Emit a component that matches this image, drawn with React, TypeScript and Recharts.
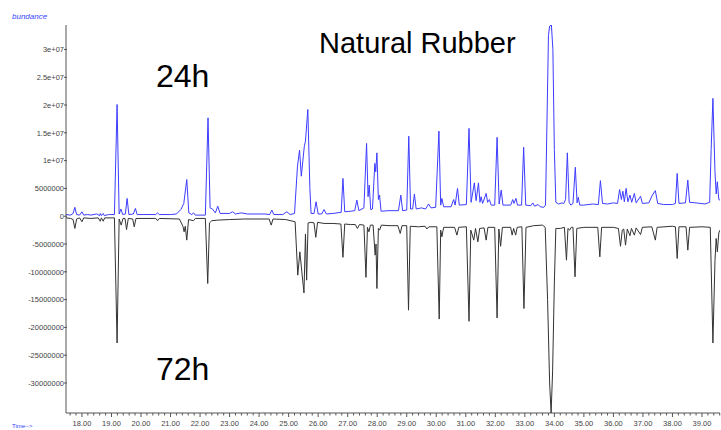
import { LineChart, Line, XAxis, YAxis } from "recharts";

// retention time (min), abundance
const trace24h: [number, number][] = [
  [17.46, 0.3e6], [17.62, 0.2e6], [17.7, 0.5e6], [17.76, 1.6e6], [17.82, 0.3e6],
  [17.92, 0.2e6], [18.0, 0.8e6], [18.06, 0.2e6], [18.2, 0.3e6], [18.3, 0.2e6],
  [18.5, 0.4e6], [18.6, 0.1e6], [18.62, 0.5e6], [18.66, 0.1e6], [18.72, 0.5e6],
  [18.76, 0.1e6], [18.9, 0.3e6], [19.1, 0.3e6], [19.19, 20.1e6], [19.26, 0.4e6],
  [19.32, 1.3e6], [19.38, 0.3e6], [19.47, 0.4e6], [19.53, 3.2e6], [19.59, 0.3e6],
  [19.74, 0.4e6], [19.81, 1.4e6], [19.87, 0.3e6], [20.1, 0.3e6], [20.5, 0.3e6],
  [20.56, 0.6e6], [20.62, 0.3e6], [21.0, 0.3e6], [21.2, 0.4e6], [21.35, 1.2e6],
  [21.45, 2.3e6], [21.55, 6.6e6], [21.62, 0.6e6], [21.72, 0.3e6], [21.78, 0.6e6],
  [21.84, 0.2e6], [22.18, 0.2e6], [22.27, 17.7e6], [22.34, 1.5e6], [22.42, 1.3e6],
  [22.52, 0.6e6], [22.6, 1.8e6], [22.68, 0.5e6], [23.0, 0.5e6], [23.1, 0.8e6],
  [23.2, 0.4e6], [23.4, 0.6e6], [23.6, 0.4e6], [24.2, 0.4e6], [24.36, 0.3e6],
  [24.43, 1.1e6], [24.5, 0.3e6], [24.8, 0.3e6], [24.94, 0.8e6], [25.05, 0.3e6],
  [25.2, 0.5e6], [25.3, 9e6], [25.37, 11.9e6], [25.43, 7.2e6], [25.53, 12.5e6],
  [25.57, 13.5e6], [25.65, 19.2e6], [25.72, 5e6], [25.76, 0.5e6], [25.86, 0.5e6],
  [25.93, 2.6e6], [26.0, 0.4e6], [26.12, 0.4e6], [26.2, 1.2e6], [26.28, 0.4e6],
  [26.5, 0.5e6], [26.78, 0.7e6], [26.84, 6.8e6], [26.9, 0.8e6], [27.1, 0.9e6],
  [27.24, 1e6], [27.31, 2.9e6], [27.38, 1e6], [27.55, 1.5e6], [27.64, 13.1e6],
  [27.69, 3.5e6], [27.73, 5.6e6], [27.78, 1.2e6], [27.84, 1.3e6], [27.92, 9.5e6],
  [27.95, 8e6], [27.99, 11.4e6], [28.04, 3e6], [28.08, 3.8e6], [28.13, 0.9e6],
  [28.4, 1e6], [28.72, 1e6], [28.8, 3.8e6], [28.86, 1e6], [29.0, 1.1e6],
  [29.07, 14.4e6], [29.13, 1.3e6], [29.2, 1.3e6], [29.26, 4e6], [29.32, 1.3e6],
  [29.5, 1.5e6], [29.64, 1.3e6], [29.74, 2.2e6], [29.82, 1.5e6], [29.98, 1.6e6],
  [30.09, 15.3e6], [30.15, 2e6], [30.19, 3.2e6], [30.25, 1.7e6], [30.5, 1.7e6],
  [30.59, 3e6], [30.64, 2e6], [30.72, 5e6], [30.78, 2e6], [31.02, 2.1e6],
  [31.11, 15.8e6], [31.18, 2.5e6], [31.29, 6e6], [31.35, 2.8e6], [31.43, 6e6],
  [31.48, 2.5e6], [31.52, 3.5e6], [31.57, 2.3e6], [31.69, 4.1e6], [31.74, 2.5e6],
  [31.8, 3e6], [31.86, 2e6], [31.98, 2e6], [32.06, 14.2e6], [32.13, 2.2e6],
  [32.2, 4.7e6], [32.26, 2e6], [32.52, 2e6], [32.59, 3e6], [32.63, 2.3e6],
  [32.7, 3.2e6], [32.75, 2e6], [32.89, 2e6], [32.96, 12.4e6], [33.03, 2e6],
  [33.2, 1.9e6], [33.27, 2.4e6], [33.33, 1.8e6], [33.45, 2.1e6], [33.52, 1.7e6],
  [33.64, 1.6e6], [33.7, 2e6], [33.76, 20e6], [33.8, 32.5e6], [33.84, 34.2e6],
  [33.9, 34.4e6], [33.95, 30e6], [34.0, 12e6], [34.05, 2.5e6], [34.15, 2.2e6],
  [34.26, 2.4e6], [34.32, 2.3e6], [34.38, 3e6], [34.44, 11.4e6], [34.5, 2.5e6],
  [34.56, 2e6], [34.63, 2.3e6], [34.71, 8.8e6], [34.77, 2.4e6], [34.81, 3.4e6],
  [34.86, 2e6], [35.0, 2e6], [35.3, 2.2e6], [35.49, 2.1e6], [35.56, 6.4e6],
  [35.63, 2.3e6], [35.8, 2.2e6], [36.0, 2.4e6], [36.14, 2.3e6], [36.21, 4.8e6],
  [36.27, 3e6], [36.32, 4.5e6], [36.37, 2.6e6], [36.43, 5e6], [36.49, 2.6e6],
  [36.56, 3.8e6], [36.62, 2.5e6], [36.71, 4.1e6], [36.77, 2.4e6], [36.92, 3.6e6],
  [36.98, 2.3e6], [37.2, 2.4e6], [37.32, 3.8e6], [37.42, 4.6e6], [37.5, 2.3e6],
  [37.7, 2.1e6], [38.0, 2.1e6], [38.1, 2.3e6], [38.16, 7.7e6], [38.22, 2.3e6],
  [38.44, 2.4e6], [38.52, 6.5e6], [38.58, 2.5e6], [38.8, 2.4e6], [39.1, 2.2e6],
  [39.26, 2.5e6], [39.31, 12e6], [39.37, 21.2e6], [39.44, 8e6], [39.48, 4e6],
  [39.52, 6.2e6], [39.57, 3e6], [39.61, 2.9e6],
];

// 72h trace, plotted mirrored below zero
const trace72h: [number, number][] = [
  [17.46, -0.3e6], [17.62, -0.4e6], [17.7, -0.6e6], [17.76, -2.2e6], [17.82, -0.5e6],
  [17.92, -0.3e6], [18.0, -1e6], [18.06, -0.3e6], [18.3, -0.4e6], [18.55, -0.3e6],
  [18.62, -0.9e6], [18.66, -0.3e6], [18.72, -0.9e6], [18.77, -0.3e6], [19.1, -0.3e6],
  [19.19, -22.8e6], [19.26, -0.5e6], [19.33, -1.6e6], [19.39, -0.4e6], [19.46, -0.4e6],
  [19.51, -2.4e6], [19.57, -0.4e6], [19.72, -0.5e6], [19.77, -1.9e6], [19.83, -0.4e6],
  [20.5, -0.4e6], [20.56, -0.8e6], [20.62, -0.4e6], [21.3, -0.5e6], [21.42, -1.8e6],
  [21.46, -2.8e6], [21.5, -1.8e6], [21.55, -4.3e6], [21.61, -0.6e6], [21.78, -0.8e6],
  [21.84, -0.4e6], [22.18, -0.4e6], [22.26, -12.1e6], [22.32, -1.2e6], [22.4, -0.8e6],
  [22.6, -0.7e6], [23.0, -0.6e6], [23.5, -0.5e6], [24.34, -0.5e6], [24.41, -1.6e6],
  [24.47, -0.5e6], [24.9, -0.6e6], [25.22, -1e6], [25.31, -10.6e6], [25.38, -6.4e6],
  [25.52, -13.8e6], [25.57, -3.2e6], [25.61, -11.5e6], [25.66, -1.2e6], [25.75, -1.1e6],
  [25.86, -1.2e6], [25.92, -3.8e6], [25.98, -1.1e6], [26.2, -1.3e6], [26.5, -1.3e6],
  [26.77, -1.4e6], [26.84, -7.4e6], [26.9, -1.4e6], [27.1, -1.5e6], [27.26, -1.5e6],
  [27.33, -2.2e6], [27.4, -1.5e6], [27.55, -1.6e6], [27.62, -11e6], [27.67, -2e6],
  [27.72, -2.8e6], [27.77, -1.6e6], [27.86, -1.6e6], [27.93, -7e6], [27.96, -5e6],
  [27.99, -13e6], [28.04, -2.2e6], [28.08, -2.5e6], [28.14, -1.6e6], [28.4, -1.7e6],
  [28.7, -1.7e6], [28.78, -3.1e6], [28.84, -1.7e6], [29.0, -1.7e6], [29.06, -16.9e6],
  [29.12, -1.8e6], [29.4, -1.9e6], [29.62, -1.8e6], [29.68, -2.3e6], [29.75, -1.9e6],
  [30.02, -1.9e6], [30.1, -18.5e6], [30.15, -2.5e6], [30.19, -3.7e6], [30.25, -2e6],
  [30.62, -2e6], [30.7, -3.4e6], [30.76, -2e6], [31.02, -1.9e6], [31.11, -18.9e6],
  [31.17, -2.5e6], [31.27, -4.3e6], [31.33, -2.2e6], [31.41, -4.6e6], [31.47, -2.2e6],
  [31.62, -2.1e6], [31.69, -4.3e6], [31.75, -2e6], [31.98, -2e6], [32.06, -18.3e6],
  [32.12, -2.3e6], [32.18, -5.4e6], [32.24, -2e6], [32.52, -2e6], [32.57, -3.4e6],
  [32.62, -2.2e6], [32.69, -3.4e6], [32.74, -2e6], [32.9, -1.9e6], [32.97, -16.6e6],
  [33.04, -2e6], [33.3, -1.7e6], [33.6, -1.6e6], [33.69, -2e6], [33.77, -15e6],
  [33.84, -30e6], [33.89, -35.4e6], [33.94, -28e6], [34.0, -12e6], [34.05, -2.2e6],
  [34.2, -2.2e6], [34.34, -2e6], [34.41, -7.9e6], [34.46, -2.2e6], [34.52, -2.5e6],
  [34.57, -2e6], [34.63, -2e6], [34.7, -10.9e6], [34.76, -2.2e6], [35.0, -2e6],
  [35.47, -2e6], [35.54, -7.3e6], [35.6, -2e6], [36.0, -2e6], [36.17, -2.2e6],
  [36.24, -5.4e6], [36.3, -2.5e6], [36.35, -2.3e6], [36.41, -5.2e6], [36.47, -2.3e6],
  [36.56, -3.5e6], [36.61, -2.2e6], [36.71, -3.4e6], [36.77, -2.1e6], [36.92, -3.3e6],
  [36.98, -2e6], [37.3, -1.9e6], [37.42, -4.3e6], [37.48, -2e6], [38.0, -1.8e6],
  [38.1, -1.9e6], [38.16, -7.6e6], [38.22, -1.9e6], [38.46, -1.9e6], [38.52, -6.1e6],
  [38.58, -2e6], [39.0, -1.9e6], [39.28, -2e6], [39.37, -22.8e6], [39.44, -8e6],
  [39.48, -4e6], [39.52, -6.4e6], [39.57, -3e6], [39.61, -2.5e6],
];

const yTicks = [3e7, 2.5e7, 2e7, 1.5e7, 1e7, 5e6, 0, -5e6, -1e7, -1.5e7, -2e7, -2.5e7, -3e7];
const yTickLabels = [
  "3e+07", "2.5e+07", "2e+07", "1.5e+07", "1e+07", "5000000", "0",
  "-5000000", "-10000000", "-15000000", "-20000000", "-25000000", "-30000000",
];
const xMajorTicks = [18, 19, 20, 21, 22, 23, 24, 25, 26, 27, 28, 29, 30, 31, 32, 33, 34, 35, 36, 37, 38, 39];

const xTicks: number[] = [];
for (let i = 88; i <= 198; i++) xTicks.push(Math.round(i * 2) / 10);

const data24h = trace24h.map(([t, v]) => ({ t, v }));
const data72h = trace72h.map(([t, v]) => ({ t, v }));

const axisColor = "#555";
const tickFont = "'Liberation Sans', Arial, sans-serif";

function XTick(props: any) {
  const { x, y, payload } = props;
  const v = payload.value as number;
  const major = xMajorTicks.some((m) => Math.abs(m - v) < 1e-6);
  return (
    <g>
      <line x1={x} y1={y} x2={x} y2={y + (major ? 4 : 2.5)} stroke={axisColor} strokeWidth={1} />
      {major && (
        <text x={x} y={y + 13} textAnchor="middle" fontSize={7.5} fill="#444" fontFamily={tickFont}>
          {v.toFixed(2)}
        </text>
      )}
    </g>
  );
}

function YTick(props: any) {
  const { x, y, payload } = props;
  const idx = yTicks.indexOf(payload.value);
  return (
    <g>
      <line x1={x - 2} y1={y} x2={x + 1} y2={y} stroke={axisColor} strokeWidth={1} />
      <text x={x - 2} y={y + 2.7} textAnchor="end" fontSize={7.5} fill="#444" fontFamily={tickFont}>
        {idx >= 0 ? yTickLabels[idx] : ""}
      </text>
    </g>
  );
}

export default function App() {
  return (
    <div style={{ position: "absolute", left: 0, top: 0, width: 721, height: 430, background: "#fff" }}>
      <LineChart width={721} height={430} margin={{ top: 25, right: 1, bottom: 0, left: 0 }}>
        <XAxis
          dataKey="t"
          type="number"
          domain={[17.46, 39.61]}
          allowDataOverflow
          ticks={xTicks}
          interval={0}
          tickSize={0}
          tickMargin={0}
          tickLine={false}
          height={17}
          stroke={axisColor}
          tick={<XTick />}
        />
        <YAxis
          type="number"
          domain={[-35.4e6, 34.4e6]}
          allowDataOverflow
          ticks={yTicks}
          interval={0}
          tickSize={0}
          tickMargin={0}
          tickLine={false}
          width={66}
          stroke={axisColor}
          tick={<YTick />}
        />
        <Line
          data={data24h}
          dataKey="v"
          type="linear"
          stroke="#3d3dff"
          strokeWidth={1}
          dot={false}
          isAnimationActive={false}
        />
        <Line
          data={data72h}
          dataKey="v"
          type="linear"
          stroke="#333"
          strokeWidth={1}
          dot={false}
          isAnimationActive={false}
        />
      </LineChart>
      <svg
        width={721}
        height={430}
        style={{ position: "absolute", left: 0, top: 0, pointerEvents: "none" }}
      >
        <text x={12} y={19} fontSize={8} fill="#3344ff" fontStyle="italic" fontFamily={tickFont}>
          bundance
        </text>
        <text x={12} y={428} fontSize={6} fill="#3344ff" fontFamily={tickFont}>
          Time--&gt;
        </text>
        <text x={319} y={53} fontSize={29} fill="#000" fontFamily="'Liberation Sans', Arial, sans-serif">
          Natural Rubber
        </text>
        <text x={156} y={87} fontSize={32} fill="#000" fontFamily="'Liberation Sans', Arial, sans-serif">
          24h
        </text>
        <text x={156} y={380} fontSize={32} fill="#000" fontFamily="'Liberation Sans', Arial, sans-serif">
          72h
        </text>
      </svg>
    </div>
  );
}
